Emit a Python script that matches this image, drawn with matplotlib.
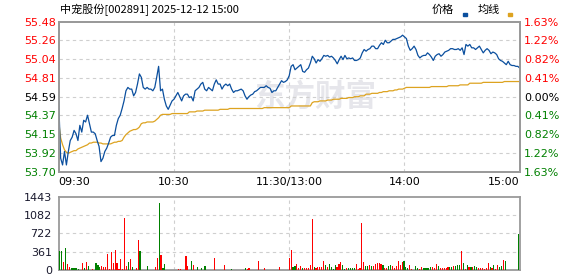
import matplotlib
matplotlib.use("Agg")
import matplotlib.pyplot as plt
from matplotlib.patches import Rectangle
import numpy as np

plt.rcParams['font.family'] = ['DejaVu Sans', 'Noto Sans CJK SC']

# intraday data, one value per minute (09:30 .. 11:30, 13:01 .. 15:00)
title = "中宠股份[002891] 2025-12-12 15:00"
prev_close = 54.59

price = [
    54.54, 53.86, 53.78, 53.94, 53.78, 53.94, 54.07, 54.11, 54.19, 54.15,
    54.07, 54.25, 54.17, 54.31, 54.29, 54.37, 54.27, 54.17, 54.17, 54.15,
    54.07, 54.00, 53.82, 53.86, 53.94, 53.98, 54.04, 54.11, 54.13, 54.13,
    54.25, 54.33, 54.37, 54.45, 54.54, 54.66, 54.70, 54.68, 54.68, 54.60,
    54.64, 54.74, 54.86, 54.82, 54.70, 54.68, 54.70, 54.68, 54.68, 54.66,
    54.70, 54.82, 54.95, 54.66, 54.68, 54.56, 54.48, 54.44, 54.49, 54.54,
    54.56, 54.60, 54.64, 54.59, 54.54, 54.60, 54.62, 54.62, 54.58, 54.59,
    54.54, 54.66, 54.68, 54.70, 54.74, 54.76, 54.68, 54.66, 54.70, 54.68,
    54.66, 54.74, 54.79, 54.74, 54.74, 54.68, 54.72, 54.74, 54.72, 54.74,
    54.68, 54.64, 54.66, 54.66, 54.67, 54.68, 54.66, 54.60, 54.56, 54.59,
    54.61, 54.62, 54.65, 54.66, 54.68, 54.70, 54.70, 54.70, 54.72, 54.70,
    54.69, 54.64, 54.66, 54.66, 54.70, 54.74, 54.78, 54.76, 54.77, 54.79,
    54.84, 54.95, 54.97, 54.91, 54.93, 54.95, 54.97, 54.89, 54.88, 54.91,
    54.93, 54.99, 55.07, 55.04, 54.99, 55.03, 55.01, 55.04, 55.08, 55.07,
    55.08, 55.06, 55.07, 55.05, 55.02, 54.98, 55.03, 55.07, 55.03, 55.08,
    55.04, 55.05, 55.04, 55.05, 55.02, 55.02, 55.03, 55.05, 55.11, 55.15,
    55.13, 55.15, 55.16, 55.19, 55.19, 55.16, 55.16, 55.20, 55.23, 55.21,
    55.26, 55.23, 55.23, 55.25, 55.27, 55.27, 55.28, 55.29, 55.30, 55.32,
    55.30, 55.28, 55.19, 55.14, 55.16, 55.19, 55.15, 55.08, 55.05, 55.07,
    55.08, 55.08, 55.11, 55.09, 55.06, 55.02, 55.07, 55.09, 55.10, 55.07,
    55.09, 55.12, 55.13, 55.14, 55.16, 55.16, 55.15, 55.15, 55.16, 55.14,
    55.17, 55.09, 55.21, 55.19, 55.21, 55.17, 55.17, 55.15, 55.17, 55.19,
    55.15, 55.11, 55.14, 55.16, 55.14, 55.10, 55.12, 55.11, 55.09, 55.04,
    55.02, 55.01, 54.99, 54.97, 55.01, 54.97, 54.96, 54.96, 54.95, 54.95,
    54.93,
]

avg_price = [
    54.30, 54.10, 54.02, 53.96, 53.93, 53.92, 53.93, 53.94, 53.95, 53.95,
    53.97, 53.98, 53.99, 54.00, 54.01, 54.02, 54.04, 54.04, 54.05, 54.05,
    54.05, 54.04, 54.04, 54.03, 54.03, 54.03, 54.03, 54.03, 54.04, 54.05,
    54.05, 54.06, 54.06, 54.07, 54.11, 54.14, 54.16, 54.18, 54.19, 54.20,
    54.20, 54.21, 54.23, 54.27, 54.28, 54.28, 54.29, 54.29, 54.29, 54.29,
    54.30, 54.32, 54.34, 54.37, 54.38, 54.38, 54.38, 54.38, 54.38, 54.39,
    54.39, 54.39, 54.39, 54.39, 54.39, 54.39, 54.39, 54.39, 54.41, 54.41,
    54.41, 54.41, 54.42, 54.42, 54.42, 54.42, 54.43, 54.43, 54.43, 54.43,
    54.43, 54.43, 54.43, 54.43, 54.44, 54.44, 54.44, 54.44, 54.44, 54.45,
    54.45, 54.45, 54.45, 54.45, 54.45, 54.45, 54.45, 54.45, 54.45, 54.45,
    54.45, 54.45, 54.45, 54.45, 54.45, 54.45, 54.45, 54.46, 54.46, 54.46,
    54.46, 54.46, 54.46, 54.46, 54.46, 54.46, 54.46, 54.46, 54.46, 54.46,
    54.46, 54.48, 54.48, 54.48, 54.48, 54.48, 54.48, 54.48, 54.48, 54.48,
    54.48, 54.48, 54.52, 54.53, 54.53, 54.53, 54.54, 54.54, 54.54, 54.54,
    54.55, 54.55, 54.55, 54.56, 54.56, 54.56, 54.56, 54.57, 54.57, 54.57,
    54.57, 54.58, 54.58, 54.58, 54.59, 54.59, 54.59, 54.60, 54.60, 54.60,
    54.62, 54.62, 54.62, 54.63, 54.63, 54.63, 54.63, 54.64, 54.64, 54.65,
    54.65, 54.65, 54.66, 54.66, 54.66, 54.67, 54.67, 54.68, 54.68, 54.68,
    54.69, 54.70, 54.70, 54.70, 54.70, 54.70, 54.70, 54.70, 54.70, 54.70,
    54.70, 54.70, 54.70, 54.70, 54.71, 54.71, 54.71, 54.71, 54.71, 54.71,
    54.71, 54.71, 54.71, 54.72, 54.72, 54.72, 54.72, 54.72, 54.72, 54.73,
    54.73, 54.73, 54.73, 54.73, 54.75, 54.75, 54.75, 54.75, 54.75, 54.75,
    54.75, 54.76, 54.76, 54.76, 54.76, 54.76, 54.76, 54.76, 54.76, 54.76,
    54.76, 54.76, 54.77, 54.77, 54.77, 54.77, 54.77, 54.77, 54.77, 54.77,
    54.77,
]

volume = [
    367, 367, 167, 427, 127, 53, 30, 30, 30, 30,
    25, 10, 147, 30, 167, 87, 10, 13, 10, 147,
    100, 53, 87, 67, 53, 307, 13, 347, 147, 387,
    147, 13, 214, 13, 1029, 87, 160, 207, 67, 5,
    47, 595, 367, 8, 8, 8, 87, 8, 8, 8,
    67, 227, 1323, 287, 47, 127, 8, 8, 8, 8,
    8, 8, 13, 15, 10, 8, 267, 87, 8, 187,
    107, 8, 67, 8, 47, 8, 87, 8, 8, 8,
    8, 227, 8, 8, 8, 8, 107, 8, 8, 8,
    15, 8, 8, 8, 8, 8, 8, 30, 20, 30,
    8, 8, 8, 8, 187, 8, 8, 30, 8, 8,
    8, 8, 8, 8, 8, 67, 8, 8, 8, 8,
    227, 387, 67, 87, 127, 30, 87, 30, 30, 30,
    33, 107, 1009, 67, 30, 67, 67, 53, 187, 107,
    67, 120, 67, 13, 107, 53, 127, 167, 107, 13,
    30, 30, 30, 30, 30, 120, 13, 30, 935, 160,
    87, 87, 107, 87, 87, 120, 147, 147, 127, 107,
    30, 30, 87, 107, 87, 30, 87, 187, 107, 167,
    180, 53, 30, 107, 13, 8, 87, 30, 13, 67,
    30, 30, 30, 30, 67, 53, 30, 127, 87, 30,
    30, 30, 30, 53, 53, 67, 87, 87, 107, 107,
    367, 147, 13, 107, 53, 67, 67, 80, 53, 30,
    30, 30, 13, 30, 147, 53, 30, 107, 13, 107,
    67, 87, 200, 187, 8, 8, 8, 8, 8, 8,
    700,
]

# R = up minute (red), G = down minute (green)
vol_dir = (
    "GGRGRRGGGG" "GGRGRGGRGG" "GGRRRRRRRR" "RRRRRRGRGR"
    "RRGGRRGRRR" "RRGRGGGGGR" "RRRRGGRRGG" "RRGRGGGRRR"
    "RRRGGRRRRG" "GRGGGGGGRR" "RRRRRRRRGG" "RGGRRRGGGR"
    "RRGGRRRGRR" "RRRGRRRRRG" "RGGGGRRRGG" "RGGGGRRRRR"
    "GGRGRRRRRG" "RRGGRRRRRR" "GGGRRRGGRR" "GGGGGRRRGR"
    "RRRRGGRGGG" "RGRGRGRGGR" "RRRRRGRGRR" "GGRGGGGGGG"
    "G"
)

price_ticks = [53.70, 53.92, 54.15, 54.37, 54.59, 54.81, 55.04, 55.26, 55.48]
pct_labels = ["1.63%", "1.22%", "0.82%", "0.41%", "0.00%", "0.41%", "0.82%", "1.22%", "1.63%"]
vol_ticks = [0, 361, 722, 1082, 1443]
time_ticks = [0, 60, 120, 180, 240]
time_labels = ["09:30", "10:30", "11:30/13:00", "14:00", "15:00"]

blue = "#0b4f9e"
gold = "#dda320"
red = "#ff0000"
green = "#008000"
grid_c = "#cfcfcf"
edge_c = "#9a9a9a"

minutes = np.arange(len(price))
fig = plt.figure(figsize=(5.78, 2.76), dpi=100)
ax = fig.add_axes([0.1016, 0.3779, 0.7976, 0.5435])
axv = fig.add_axes([0.1016, 0.0217, 0.7976, 0.2656])

# watermark
ax.text(0.556, 0.50, "东方财富", transform=ax.transAxes, ha="center", va="center",
        fontsize=22, fontweight="bold", color="#e6e6eb", family="Noto Sans CJK SC", zorder=0)

ax.plot(minutes, avg_price, color=gold, lw=0.9, zorder=3)
ax.plot(minutes, price, color=blue, lw=0.9, zorder=4)
ax.set_xlim(0, 240)
ax.set_ylim(price_ticks[0], price_ticks[-1])

for y in price_ticks[1:-1]:
    ax.axhline(y, color=grid_c, lw=0.8, ls=(0, (3, 3)), zorder=1)
for x in time_ticks[1:-1]:
    ax.axvline(x, color=grid_c, lw=0.8, ls=(0, (3, 3)), zorder=1)
    axv.axvline(x, color=grid_c, lw=0.8, ls=(0, (3, 3)), zorder=1)

def tick_color(v, base):
    if abs(v - base) < 1e-6:
        return "black"
    return red if v > base else green

ax.set_yticks(price_ticks)
ax.set_yticklabels([f"{v:.2f}" for v in price_ticks], fontsize=8)
for lbl, v in zip(ax.get_yticklabels(), price_ticks):
    lbl.set_color(tick_color(v, prev_close))

ax2 = ax.twinx()
ax2.set_ylim(price_ticks[0], price_ticks[-1])
ax2.set_yticks(price_ticks)
ax2.set_yticklabels(pct_labels, fontsize=8)
for lbl, v in zip(ax2.get_yticklabels(), price_ticks):
    lbl.set_color(tick_color(v, prev_close))

ax.set_xticks(time_ticks)
ax.set_xticklabels(time_labels, fontsize=8)
xl = ax.get_xticklabels()
xl[0].set_ha("left")
xl[-1].set_ha("right")

ax.tick_params(axis="both", length=0, pad=2)
ax.tick_params(axis="x", pad=4)
ax2.tick_params(axis="y", length=0, pad=3)

bar_colors = [red if c == "R" else green for c in vol_dir]
axv.bar(minutes, volume, width=0.6, color=bar_colors, zorder=3)
axv.set_xlim(-0.5, 240.5)
axv.set_ylim(0, vol_ticks[-1])
for y in vol_ticks[1:-1]:
    axv.axhline(y, color=grid_c, lw=0.8, ls=(0, (3, 3)), zorder=1)
axv.set_yticks(vol_ticks)
axv.set_yticklabels([str(v) for v in vol_ticks], fontsize=8, color="#1a1a2e")
axv.set_xticks([])
axv.tick_params(axis="y", length=0, pad=5)

for a in (ax, ax2, axv):
    for s in a.spines.values():
        s.set_color(edge_c)
        s.set_linewidth(1.3)

fig.text(60 / 578, 1 - 9.5 / 276, title, fontsize=8, va="center", ha="left",
         family=["Noto Sans CJK SC", "DejaVu Sans"])
fig.text(432 / 578, 1 - 10 / 276, "价格", fontsize=8, va="center", ha="left", family="Noto Sans CJK SC")
fig.text(478 / 578, 1 - 10 / 276, "均线", fontsize=8, va="center", ha="left", family="Noto Sans CJK SC")
fig.add_artist(Rectangle((463 / 578, 1 - 16 / 276), 4 / 578, 3 / 276, transform=fig.transFigure, color=blue))
fig.add_artist(Rectangle((508 / 578, 1 - 16 / 276), 4 / 578, 3 / 276, transform=fig.transFigure, color=gold))

assert len(price) == len(avg_price) == len(volume) == len(vol_dir) == 241

fig.savefig("out.png", dpi=100)
